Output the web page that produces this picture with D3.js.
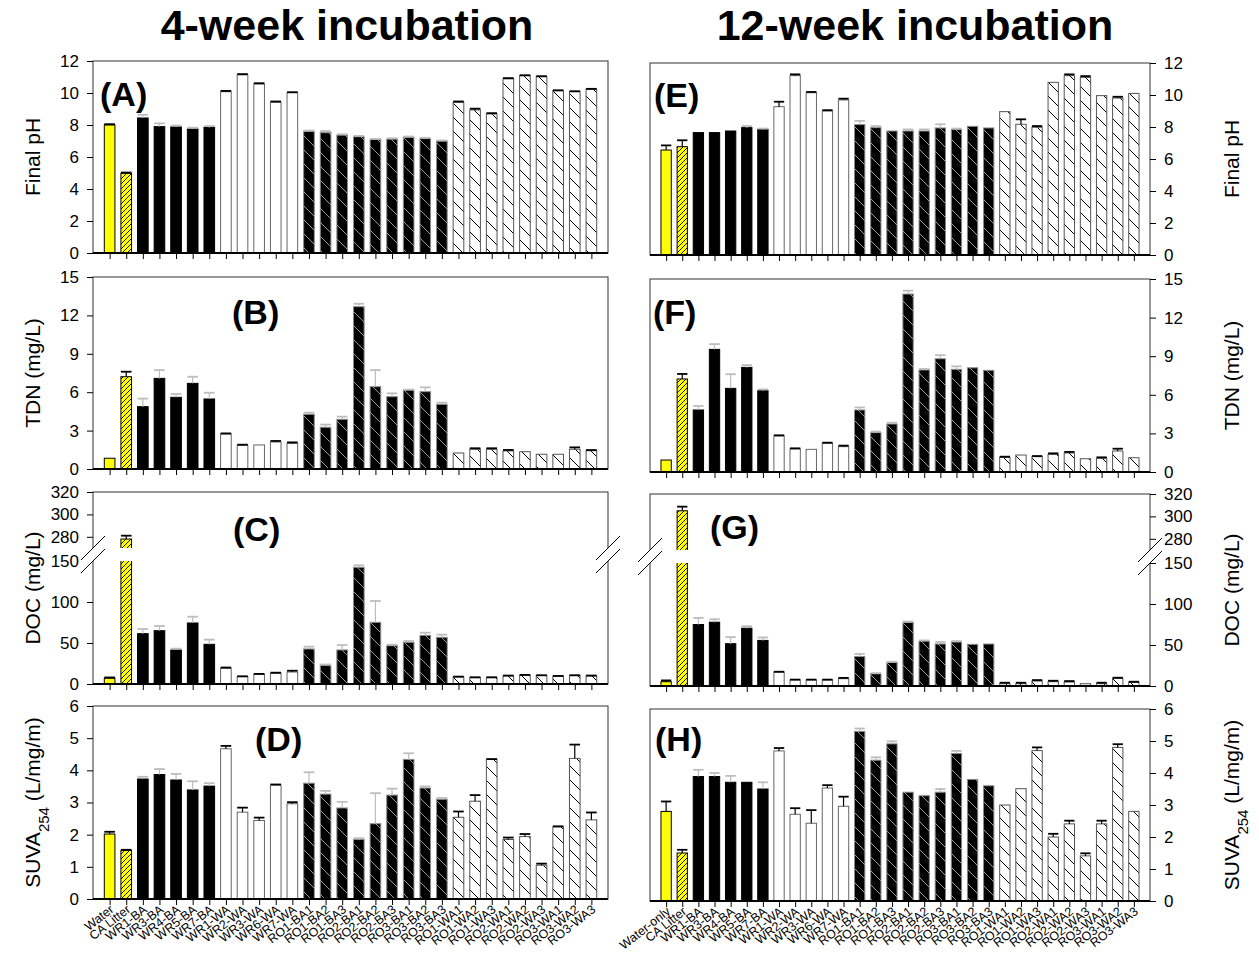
<!DOCTYPE html>
<html>
<head>
<meta charset="utf-8">
<script src="https://cdn.jsdelivr.net/npm/d3@7"></script>
<style>
  body { margin: 0; background: #fff; }
  text { font-family: "Liberation Sans", Arial, sans-serif; fill: #000; }
</style>
</head>
<body>
<div id="chart"></div>
<script>
// categories
var cats4 = ["Water", "CA Litter", "WR1-BA", "WR3-BA", "WR4-BA", "WR5-BA", "WR7-BA",
  "WR1-WA", "WR2-WA", "WR3-WA", "WR6-WA", "WR7-WA",
  "RO1-BA1", "RO1-BA2", "RO1-BA3", "RO2-BA1", "RO2-BA2", "RO2-BA3", "RO3-BA1", "RO3-BA2", "RO3-BA3",
  "RO1-WA1", "RO1-WA2", "RO1-WA3", "RO2-WA1", "RO2-WA2", "RO2-WA3", "RO3-WA1", "RO3-WA2", "RO3-WA3"];
var cats12 = ["Water-only"].concat(cats4.slice(1));

// 4-week values
var ph4 = [8.0, 4.98, 8.44, 7.9, 7.88, 7.75, 7.85, 10.08, 11.13, 10.56, 9.42, 10.02, 7.6, 7.52, 7.37, 7.27, 7.1, 7.12, 7.23, 7.15, 7.0, 9.42, 8.94, 8.69, 10.88, 11.08, 11.02, 10.14, 10.08, 10.23];
var ph4Err = [0.05, 0.05, 0.2, 0.2, 0.08, 0.08, 0.08, 0.05, 0.05, 0.05, 0.05, 0.03, 0.05, 0.1, 0.05, 0.05, 0.03, 0.05, 0.05, 0.05, 0.03, 0.05, 0.08, 0.05, 0.05, 0.03, 0.03, 0.03, 0.03, 0.03];
var tdn4 = [0.84, 7.21, 4.87, 7.08, 5.6, 6.69, 5.47, 2.73, 1.85, 1.88, 2.11, 2.0, 4.27, 3.26, 3.88, 12.68, 6.43, 5.65, 6.17, 6.04, 5.05, 1.25, 1.54, 1.54, 1.41, 1.35, 1.15, 1.15, 1.54, 1.43];
var tdn4Err = [0, 0.39, 0.63, 0.65, 0.26, 0.52, 0.49, 0.05, 0.05, 0, 0.08, 0.08, 0.13, 0.21, 0.21, 0.23, 1.3, 0.26, 0.03, 0.34, 0.13, 0, 0.08, 0.08, 0.08, 0, 0, 0, 0.15, 0.05];
var doc4 = [7.0, 278, 61.4, 65, 41.5, 74.4, 48.4, 19.1, 8.9, 11.8, 13, 14.6, 42.7, 22.8, 41.5, 142.3, 75.2, 46.7, 50.8, 59.3, 56.9, 8.5, 7.7, 7.7, 9.8, 10.6, 10.2, 9.4, 10.2, 9.8];
var doc4Err = [1, 3, 5.7, 5.7, 1.6, 7.7, 5.7, 1, 0.5, 0.5, 0.8, 1.6, 2.8, 1, 6, 2.4, 26, 1.2, 1.6, 3.3, 3.3, 0.5, 0.5, 0.5, 0.5, 0.5, 0.5, 0.5, 0.5, 0.5];
var suva4 = [2.02, 1.51, 3.73, 3.87, 3.7, 3.39, 3.51, 4.67, 2.7, 2.44, 3.54, 2.96, 3.6, 3.26, 2.83, 1.85, 2.34, 3.23, 4.34, 3.45, 3.1, 2.54, 3.04, 4.34, 1.85, 1.94, 1.05, 2.24, 4.37, 2.46];
var suva4Err = [0.07, 0.02, 0.07, 0.17, 0.19, 0.27, 0.09, 0.09, 0.14, 0.09, 0.02, 0.05, 0.34, 0.1, 0.19, 0.04, 0.95, 0.2, 0.19, 0.05, 0.04, 0.18, 0.19, 0.01, 0.06, 0.08, 0.05, 0.02, 0.43, 0.23];

// 12-week values
var ph12 = [6.56, 6.77, 7.65, 7.65, 7.75, 7.96, 7.85, 9.27, 11.21, 10.14, 9.0, 9.69, 8.15, 7.96, 7.75, 7.75, 7.75, 7.94, 7.85, 8.04, 7.94, 8.96, 8.17, 7.98, 10.79, 11.21, 11.1, 9.96, 9.81, 10.1];
var ph12Err = [0.29, 0.4, 0, 0, 0, 0.1, 0.05, 0.31, 0.08, 0.05, 0.05, 0.08, 0.23, 0.1, 0, 0.1, 0.1, 0.23, 0.05, 0, 0, 0, 0.31, 0.08, 0, 0.08, 0.08, 0, 0.08, 0];
var tdn12 = [0.93, 7.23, 4.82, 9.53, 6.5, 8.13, 6.32, 2.8, 1.79, 1.76, 2.23, 1.97, 4.82, 3.06, 3.73, 13.83, 7.93, 8.8, 7.98, 8.1, 7.9, 1.14, 1.32, 1.19, 1.37, 1.48, 1.03, 1.06, 1.63, 1.11];
var tdn12Err = [0, 0.39, 0.31, 0.41, 1.1, 0.18, 0.1, 0.05, 0.05, 0, 0.05, 0.08, 0.2, 0.08, 0.1, 0.26, 0.08, 0.28, 0.23, 0, 0, 0.05, 0, 0.05, 0.08, 0.08, 0, 0.08, 0.18, 0];
var doc12 = [5.2, 305, 75, 77.8, 51.6, 70.5, 55.6, 16.9, 7.3, 7.3, 7.3, 8.9, 35.9, 14.9, 28.7, 77.4, 54.8, 51.2, 53.6, 50.8, 51.2, 2.8, 2.8, 6, 5.2, 4.8, 2.8, 2.8, 9.3, 4.4];
var doc12Err = [1.6, 3.7, 8, 3.6, 8, 2.4, 3.6, 0.5, 0.5, 0.5, 0.5, 1, 3.2, 0.8, 0.8, 1.2, 0.8, 2.4, 1.2, 0, 0, 1.2, 1.2, 1.2, 1.2, 1.2, 0, 1.2, 0.8, 0.8];
var suva12 = [2.8, 1.5, 3.89, 3.89, 3.71, 3.71, 3.5, 4.69, 2.71, 2.43, 3.53, 2.96, 5.3, 4.4, 4.91, 3.4, 3.29, 3.4, 4.61, 3.8, 3.6, 3.0, 3.51, 4.7, 2.0, 2.41, 1.41, 2.41, 4.8, 2.8];
var suva12Err = [0.31, 0.1, 0.21, 0.11, 0.2, 0, 0.21, 0.09, 0.19, 0.41, 0.09, 0.3, 0.09, 0.09, 0.08, 0, 0, 0.1, 0.08, 0, 0, 0, 0, 0.1, 0.1, 0.1, 0.08, 0.1, 0.1, 0];

// tick labels
var phTicks = [0, 2, 4, 6, 8, 10, 12];
var tdnTicks = [0, 3, 6, 9, 12, 15];
var docLowTicks = [0, 50, 100, 150];
var docHighTicks = [280, 300, 320];
var suvaTicks = [0, 1, 2, 3, 4, 5, 6];

var W = 1259, H = 956;
var svg = d3.select("#chart").append("svg")
  .attr("width", W)
  .attr("height", H);
svg.append("rect").attr("width", W).attr("height", H).attr("fill", "#fff");

var defs = svg.append("defs");
function hatch(id, size, bg, stroke, d, sw) {
  var p = defs.append("pattern").attr("id", id)
    .attr("patternUnits", "userSpaceOnUse")
    .attr("width", size).attr("height", size);
  p.append("rect").attr("width", size).attr("height", size).attr("fill", bg);
  p.append("path").attr("d", d).attr("stroke", stroke).attr("stroke-width", sw).attr("fill", "none");
}
hatch("litter", 5, "#ffff00", "#000", "M-1,1 l2,-2 M0,5 l5,-5 M4,6 l2,-2", 0.9);
hatch("roba", 14, "#000", "#9a9a9a", "M0,0 L14,14 M-1,13 l2,2 M13,-1 l2,2", 1);
hatch("rowa", 14, "#fff", "#000", "M0,0 L14,14 M-1,13 l2,2 M13,-1 l2,2", 1);

function groupOf(name) {
  if (name.indexOf("Water") == 0) return "water";
  if (name == "CA Litter") return "litter";
  if (name.indexOf("WR") == 0) return name.indexOf("-BA") > 0 ? "wrba" : "wrwa";
  return name.indexOf("-BA") > 0 ? "roba" : "rowa";
}
var fills = { water: "#ffff00", litter: "url(#litter)", wrba: "#000", wrwa: "#fff", roba: "url(#roba)", rowa: "url(#rowa)" };
var outlines = { water: "#000", litter: "#000", wrba: "#000", wrwa: "#666", roba: "#8a8a8a", rowa: "#555" };
var errColor = { water: "#000", litter: "#000", wrba: "#bdbdbd", wrwa: "#000", roba: "#bdbdbd", rowa: "#000" };

function drawPanel(p) {
  var g = svg.append("g");
  var h = p.y1 - p.y0;
  var x = d3.scalePoint().domain(p.cats).range([p.x0, p.x1]).padding(1);
  var bw = x.step() * 0.64;
  var y, lo, hi, gapTop, gapBot;
  if (p.broken) {
    gapBot = p.y1 - 123;
    gapTop = gapBot - 13;
    lo = d3.scaleLinear().domain([0, 150]).range([p.y1, gapBot]);
    hi = d3.scaleLinear().domain([270, 320]).range([gapTop, p.y0]);
    y = function(v) { return v <= 150 ? lo(v) : (v >= 270 ? hi(v) : (gapTop + gapBot) / 2); };
  } else {
    lo = d3.scaleLinear().domain([0, p.max]).range([p.y1, p.y0]);
    y = lo;
  }

  var rows = p.cats.map(function(c, i) { return { name: c, v: p.vals[i], e: p.errs[i], grp: groupOf(c) }; });

  // bars
  g.selectAll(".bar").data(rows).enter().append("rect")
    .attr("class", "bar")
    .attr("x", function(d) { return x(d.name) - bw / 2; })
    .attr("y", function(d) { return y(d.v); })
    .attr("width", bw)
    .attr("height", function(d) { return p.y1 - y(d.v); })
    .attr("fill", function(d) { return fills[d.grp]; })
    .attr("stroke", function(d) { return outlines[d.grp]; })
    .attr("stroke-width", 1);

  // error bars
  var eb = g.selectAll(".err").data(rows.filter(function(d) { return d.e > 0; })).enter().append("g")
    .attr("stroke", function(d) { return errColor[d.grp]; });
  eb.append("line")
    .attr("x1", function(d) { return x(d.name); })
    .attr("x2", function(d) { return x(d.name); })
    .attr("y1", function(d) { return y(d.v); })
    .attr("y2", function(d) { return y(d.v + d.e); })
    .attr("stroke-width", 1.2);
  eb.append("line")
    .attr("x1", function(d) { return x(d.name) - bw / 2; })
    .attr("x2", function(d) { return x(d.name) + bw / 2; })
    .attr("y1", function(d) { return y(d.v + d.e); })
    .attr("y2", function(d) { return y(d.v + d.e); })
    .attr("stroke-width", 1.8);

  if (p.broken) {
    g.append("rect").attr("x", p.x0 + 1).attr("y", gapTop).attr("width", p.x1 - p.x0 - 2)
      .attr("height", gapBot - gapTop).attr("fill", "#fff");
  }

  // frame
  g.append("rect").attr("x", p.x0).attr("y", p.y0).attr("width", p.x1 - p.x0).attr("height", h)
    .attr("fill", "none").attr("stroke", "#333").attr("stroke-width", 1);
  g.append("line").attr("x1", p.x0).attr("x2", p.x1).attr("y1", p.y1).attr("y2", p.y1)
    .attr("stroke", "#000").attr("stroke-width", 2);

  // x ticks
  g.append("g").attr("transform", "translate(0," + p.y1 + ")")
    .call(d3.axisBottom(x).tickSize(6).tickFormat(""))
    .call(function(a) { a.select(".domain").remove(); a.selectAll("line").attr("stroke", "#000"); });

  // y axis
  var ax = p.side == "left" ? d3.axisLeft : d3.axisRight;
  var axX = p.side == "left" ? p.x0 : p.x1;
  var parts = p.broken ? [[lo, docLowTicks], [hi, docHighTicks]] : [[lo, p.ticks]];
  parts.forEach(function(pt) {
    g.append("g").attr("transform", "translate(" + axX + ",0)")
      .call(ax(pt[0]).tickValues(pt[1]).tickFormat(d3.format("d")).tickSize(6).tickPadding(8).tickSizeOuter(0))
      .call(function(a) {
        a.select(".domain").remove();
        a.selectAll("line").attr("stroke", "#000");
        a.selectAll("text").style("font-size", "17px").attr("font-family", "Liberation Sans, Arial, sans-serif");
      });
  });

  // axis break marks
  if (p.broken) {
    [p.x0, p.x1].forEach(function(ex) {
      var s = 12;
      g.append("path")
        .attr("d", "M" + (ex - s) + "," + (gapTop + s) + " L" + (ex + s) + "," + (gapTop - s) +
          " L" + (ex + s) + "," + (gapBot - s) + " L" + (ex - s) + "," + (gapBot + s) + "Z")
        .attr("fill", "#fff");
      [gapTop, gapBot].forEach(function(gy) {
        g.append("line").attr("x1", ex - s).attr("y1", gy + s).attr("x2", ex + s).attr("y2", gy - s)
          .attr("stroke", "#000").attr("stroke-width", 1);
      });
    });
  }

  // panel label
  g.append("text").attr("x", p.lx).attr("y", p.ly)
    .style("font-size", "34px").style("font-weight", "bold").text(p.label);

  // y title
  var tx = p.side == "left" ? 33 : 1232;
  var t = g.append("text")
    .attr("transform", "translate(" + tx + "," + ((p.y0 + p.y1) / 2) + ") rotate(-90)")
    .attr("text-anchor", "middle").attr("dy", "0.35em")
    .style("font-size", "21px");
  if (p.title == "SUVA") {
    t.append("tspan").text("SUVA");
    t.append("tspan").attr("baseline-shift", "sub").style("font-size", "15px").text("254");
    t.append("tspan").text(" (L/mg/m)");
  } else {
    t.text(p.title);
  }

  // x labels
  if (p.xlabels) {
    g.selectAll(".xl").data(p.cats).enter().append("text")
      .attr("transform", function(d) { return "translate(" + (x(d) + 5) + "," + (p.y1 + 12) + ") rotate(-38)"; })
      .attr("text-anchor", "end")
      .style("font-size", "12.5px")
      .text(function(d) { return d; });
  }
}

var L = { x0: 93, x1: 608, side: "left", cats: cats4 };
var R = { x0: 650, x1: 1150, side: "right", cats: cats12 };
function ext(a, b) { return Object.assign({}, a, b); }

drawPanel(ext(L, { y0: 61, y1: 253, max: 12, ticks: phTicks, vals: ph4, errs: ph4Err, label: "(A)", lx: 100, ly: 106, title: "Final pH" }));
drawPanel(ext(L, { y0: 277, y1: 469, max: 15, ticks: tdnTicks, vals: tdn4, errs: tdn4Err, label: "(B)", lx: 232, ly: 324, title: "TDN (mg/L)" }));
drawPanel(ext(L, { y0: 492, y1: 684, broken: true, vals: doc4, errs: doc4Err, label: "(C)", lx: 233, ly: 541, title: "DOC (mg/L)" }));
drawPanel(ext(L, { y0: 706, y1: 899, max: 6, ticks: suvaTicks, vals: suva4, errs: suva4Err, label: "(D)", lx: 255, ly: 751, title: "SUVA", xlabels: true }));

drawPanel(ext(R, { y0: 63, y1: 255, max: 12, ticks: phTicks, vals: ph12, errs: ph12Err, label: "(E)", lx: 654, ly: 107, title: "Final pH" }));
drawPanel(ext(R, { y0: 279, y1: 472, max: 15, ticks: tdnTicks, vals: tdn12, errs: tdn12Err, label: "(F)", lx: 653, ly: 324, title: "TDN (mg/L)" }));
drawPanel(ext(R, { y0: 494, y1: 686, broken: true, vals: doc12, errs: doc12Err, label: "(G)", lx: 710, ly: 539, title: "DOC (mg/L)" }));
drawPanel(ext(R, { y0: 709, y1: 901, max: 6, ticks: suvaTicks, vals: suva12, errs: suva12Err, label: "(H)", lx: 655, ly: 751, title: "SUVA", xlabels: true }));

// titles
svg.append("text").attr("x", 347).attr("y", 40).attr("text-anchor", "middle")
  .style("font-size", "43px").style("font-weight", "bold").text("4-week incubation");
svg.append("text").attr("x", 915).attr("y", 40).attr("text-anchor", "middle")
  .style("font-size", "43px").style("font-weight", "bold").text("12-week incubation");
</script>
</body>
</html>
